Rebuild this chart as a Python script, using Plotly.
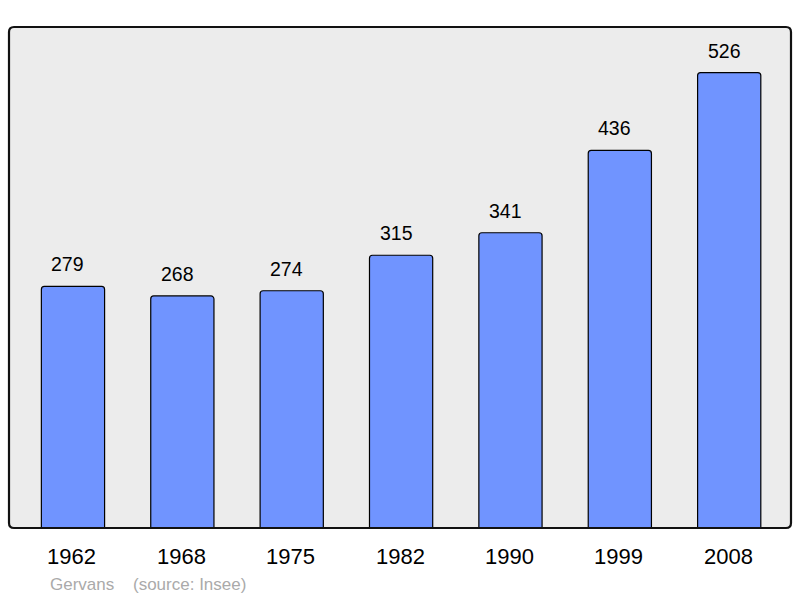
import plotly.graph_objects as go

years = ["1962", "1968", "1975", "1982", "1990", "1999", "2008"]
population = [279, 268, 274, 315, 341, 436, 526]
commune = "Gervans"
source = "(source: Insee)"

W, H = 800, 598
ml, mr, mt, mb = 9, 9, 27, 70
pw, ph = W - ml - mr, H - mt - mb

xs = list(range(len(years)))
FONT = "Liberation Sans, Arial, sans-serif"

fig = go.Figure()
fig.add_trace(go.Bar(
    x=xs, y=population, width=0.578,
    marker=dict(color="#7094ff", line=dict(color="black", width=1.2)),
    hoverinfo="skip",
))

annotations = []
for i, (yr, v) in enumerate(zip(years, population)):
    annotations.append(dict(x=i, y=v, xref="x", yref="y", text=str(v), showarrow=False,
                            yshift=22, xshift=-5, yanchor="middle", xanchor="center",
                            font=dict(family=FONT, size=19.5, color="black")))
    annotations.append(dict(x=i, y=0, xref="x", yref="paper", text=yr, showarrow=False,
                            yshift=-28, xshift=-1, yanchor="middle", xanchor="center",
                            font=dict(family=FONT, size=22, color="black")))
annotations.append(dict(x=0, y=0, xref="paper", yref="paper", text=commune, showarrow=False,
                        xshift=39, yshift=-56, xanchor="left", yanchor="middle",
                        font=dict(family=FONT, size=17, color="#aaaaaa")))
annotations.append(dict(x=0, y=0, xref="paper", yref="paper", text=source, showarrow=False,
                        xshift=122, yshift=-56, xanchor="left", yanchor="middle",
                        font=dict(family=FONT, size=17, color="#aaaaaa")))

# rounded border for plot area
rx, ry = 5 / pw, 5 / ph
path = (f"M {rx},0 L {1-rx},0 Q 1,0 1,{ry} L 1,{1-ry} Q 1,1 {1-rx},1 "
        f"L {rx},1 Q 0,1 0,{1-ry} L 0,{ry} Q 0,0 {rx},0 Z")
shapes = [
    dict(type="path", xref="paper", yref="paper", path=path, fillcolor="#ececec",
         line=dict(width=0), layer="below"),
    dict(type="path", xref="paper", yref="paper", path=path, fillcolor="rgba(0,0,0,0)",
         line=dict(color="#111111", width=2.2), layer="above"),
]

fig.update_layout(
    width=W, height=H,
    margin=dict(l=ml, r=mr, t=mt, b=mb, pad=0),
    paper_bgcolor="white", plot_bgcolor="rgba(0,0,0,0)",
    showlegend=False,
    barcornerradius=3,
    xaxis=dict(range=[-0.585, 6.565], showticklabels=False, showgrid=False,
               zeroline=False, showline=False, ticks="", fixedrange=True),
    yaxis=dict(range=[0, 578.6], showticklabels=False, showgrid=False,
               zeroline=False, showline=False, ticks="", fixedrange=True),
    annotations=annotations,
    shapes=shapes,
)

fig.write_html("out.html", config={"displayModeBar": False},
               post_script="document.body.style.margin='0';document.body.style.overflow='hidden';")
